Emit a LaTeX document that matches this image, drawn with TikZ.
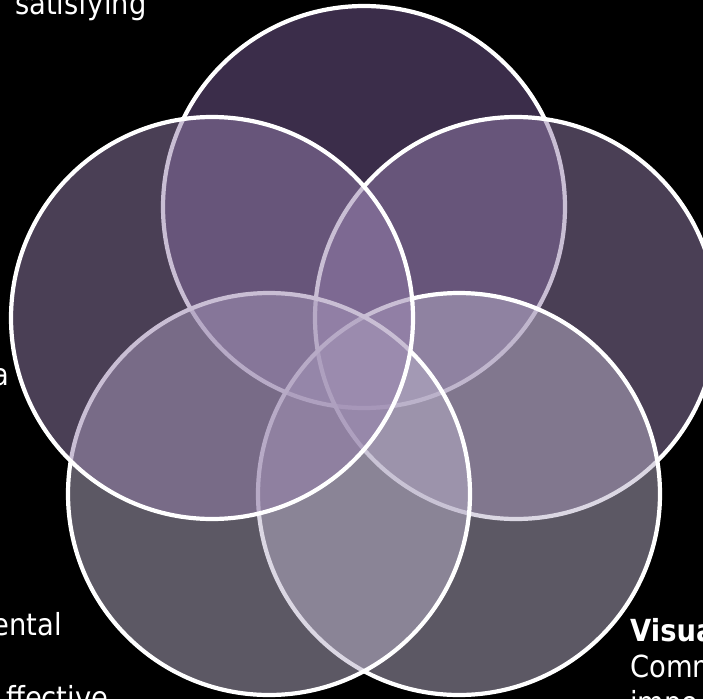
\documentclass[tikz,border=0pt]{standalone}
\usepackage{fontspec}
\setmainfont[FakeStretch=0.9]{DejaVu Sans}
\definecolor{cTop}{RGB}{118,90,148}
\definecolor{cSide}{RGB}{148,126,170}
\definecolor{cLow}{RGB}{184,176,200}
\tikzset{
  venn/.style={draw=white, line width=4.2pt, fill opacity=0.5},
  lbl/.style={text=white, inner sep=0pt, font=\fontsize{30.4}{36}\selectfont}
}
\begin{document}
\begin{tikzpicture}[x=1pt,y=-1pt]
\fill[black] (0,0) rectangle (703,699);
\useasboundingbox (0,0) rectangle (703,699);
\clip (0,0) rectangle (703,699);
% circles, drawn in the reference's stacking order
\path[venn, fill=cTop]  (364,207) circle[radius=201pt];
\path[venn, fill=cSide] (516,318) circle[radius=201pt];
\path[venn, fill=cLow]  (459,494) circle[radius=201pt];
\path[venn, fill=cLow]  (269,494) circle[radius=201pt];
\path[venn, fill=cSide] (212,318) circle[radius=201pt];
% cut-off texts at the edges
\node[lbl, anchor=base west] (t1) at (15,14) {satisfying};
\node[lbl, anchor=base east] (t2) at (9,385) {a};
\node[lbl, anchor=base east] (t3) at (62,635) {ental};
\node[lbl, anchor=base west] (t4) at (6,708) {ffective};
\node[lbl, anchor=base west, font=\fontsize{30.4}{36}\selectfont\bfseries] (t5) at (630,641) {Visua};
\node[lbl, anchor=base west] (t6) at (630,677) {Comm};
\node[lbl, anchor=base west] (t7) at (630,713) {impo};
\end{tikzpicture}
\end{document}
